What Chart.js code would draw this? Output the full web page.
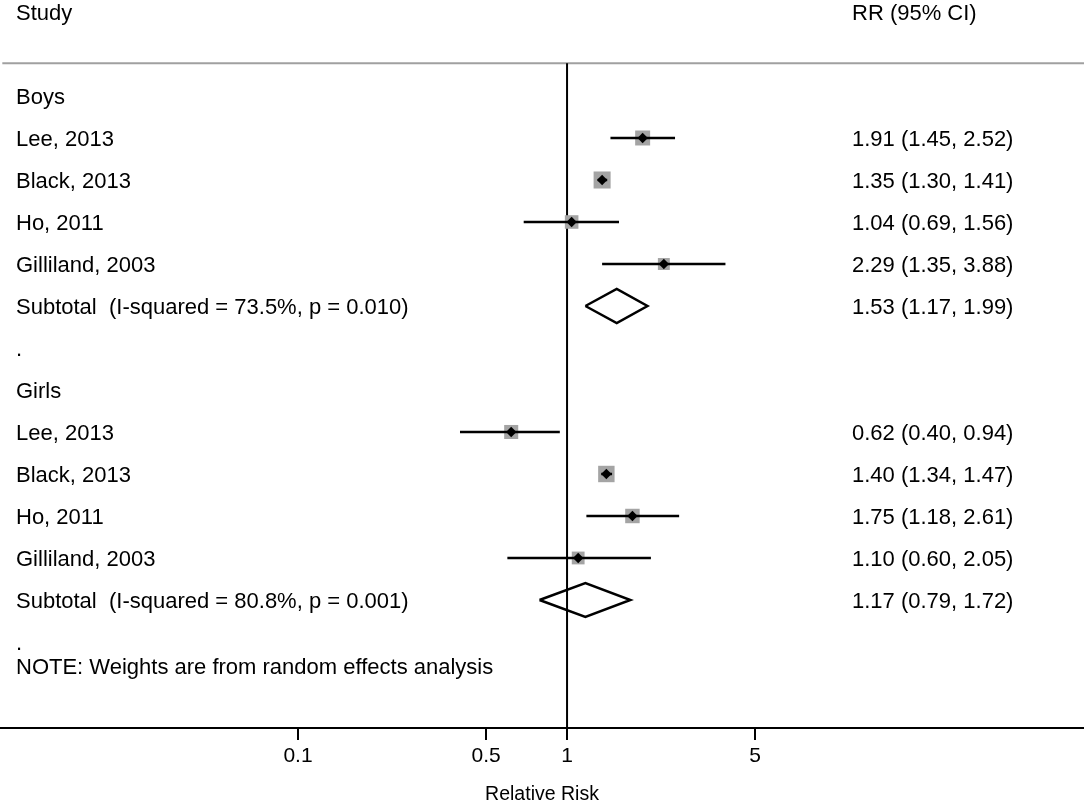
<!DOCTYPE html>
<html>
<head>
<meta charset="utf-8">
<script src="https://cdn.jsdelivr.net/npm/chart.js@4.4.1/dist/chart.umd.min.js"></script>
<style>
  html, body { margin: 0; padding: 0; background: #fff; }
  #wrap { width: 1084px; height: 804px; position: relative; }
</style>
</head>
<body>
<div id="wrap"><canvas id="forest"></canvas></div>
<script>
const studies = ['Lee, 2013', 'Black, 2013', 'Ho, 2011', 'Gilliland, 2003'];
const groups = ['Boys', 'Girls'];

const boysRR = [1.91, 1.35, 1.04, 2.29];
const boysLo = [1.45, 1.30, 0.69, 1.35];
const boysHi = [2.52, 1.41, 1.56, 3.88];
const boysWeight = [26.7, 34.5, 21.9, 16.9];

const girlsRR = [0.62, 1.40, 1.75, 1.10];
const girlsLo = [0.40, 1.34, 1.18, 0.60];
const girlsHi = [0.94, 1.47, 2.61, 2.05];
const girlsWeight = [23.5, 32.1, 24.9, 19.5];

const subtotalRR = [1.53, 1.17];
const subtotalLo = [1.17, 0.79];
const subtotalHi = [1.99, 1.72];
const subtotalI2 = ['73.5%', '80.8%'];
const subtotalP = ['0.010', '0.001'];

const xTicks = [0.1, 0.5, 1, 5];
const note = 'NOTE: Weights are from random effects analysis';

// axis range so that RR = 1 sits at x = 567 and the plot spans the full width
const X_MIN = 0.0078;
const X_MAX = 83.5;
const Y_MIN = -2.2857;
const Y_MAX = 15.048;
const HEADER_LINE = -0.779;
const FONT = '"Liberation Sans", Arial, sans-serif';
const BOX_GRAY = '#a4a4a4';

const fmt = (rr, lo, hi) => `${rr.toFixed(2)} (${lo.toFixed(2)}, ${hi.toFixed(2)})`;

// build rows: group header, studies, subtotal, spacer
const series = [
  { rr: boysRR, lo: boysLo, hi: boysHi, w: boysWeight },
  { rr: girlsRR, lo: girlsLo, hi: girlsHi, w: girlsWeight }
];
const leftText = [{ row: -2, text: 'Study' }];
const rightText = [{ row: -2, text: 'RR (95% CI)' }];
const studyRows = [];
const subRows = [];
let row = 0;
groups.forEach((g, gi) => {
  leftText.push({ row, text: g });
  row++;
  const s = series[gi];
  studies.forEach((name, i) => {
    studyRows.push({ row, rr: s.rr[i], lo: s.lo[i], hi: s.hi[i], w: s.w[i] });
    leftText.push({ row, text: name });
    rightText.push({ row, text: fmt(s.rr[i], s.lo[i], s.hi[i]) });
    row++;
  });
  subRows.push({ row, rr: subtotalRR[gi], lo: subtotalLo[gi], hi: subtotalHi[gi] });
  leftText.push({ row, text: `Subtotal  (I-squared = ${subtotalI2[gi]}, p = ${subtotalP[gi]})` });
  rightText.push({ row, text: fmt(subtotalRR[gi], subtotalLo[gi], subtotalHi[gi]) });
  row++;
  leftText.push({ row, text: '.' });
  row++;
});
leftText.push({ row: row - 1 + 0.58, text: note });

const datasets = [];

// weight boxes
datasets.push({
  data: studyRows.map(r => ({ x: r.rr, y: r.row })),
  pointStyle: 'rect',
  pointRadius: studyRows.map(r => 2.05 * Math.sqrt(r.w)),
  backgroundColor: BOX_GRAY,
  borderWidth: 0,
  order: 3
});

// confidence intervals
studyRows.forEach(r => {
  datasets.push({
    data: [{ x: r.lo, y: r.row }, { x: r.hi, y: r.row }],
    showLine: true,
    borderColor: '#000',
    borderWidth: 2.5,
    pointRadius: 0,
    order: 2
  });
});

// point estimates
datasets.push({
  data: studyRows.map(r => ({ x: r.rr, y: r.row })),
  pointStyle: 'rectRot',
  pointRadius: 5.2,
  backgroundColor: '#000',
  borderWidth: 0,
  order: 0
});

// subtotal diamonds
subRows.forEach(r => {
  const h = 0.405;
  datasets.push({
    data: [
      { x: r.lo, y: r.row }, { x: r.rr, y: r.row - h },
      { x: r.hi, y: r.row }, { x: r.rr, y: r.row + h },
      { x: r.lo, y: r.row }
    ],
    showLine: true,
    borderColor: '#000',
    borderWidth: 2.5,
    borderJoinStyle: 'miter',
    fill: false,
    pointRadius: 0,
    order: 1
  });
});

// null line and header rule
datasets.push({
  data: [{ x: 1, y: HEADER_LINE }, { x: 1, y: Y_MAX }],
  showLine: true, borderColor: '#000', borderWidth: 2, pointRadius: 0, order: 4
});
datasets.push({
  data: [{ x: X_MIN * 1.02, y: HEADER_LINE }, { x: X_MAX, y: HEADER_LINE }],
  showLine: true, borderColor: '#a0a0a0', borderWidth: 2, pointRadius: 0, order: 4
});

const textPlugin = {
  id: 'forestText',
  afterDraw(chart) {
    const { ctx } = chart;
    const y = chart.scales.y;
    ctx.save();
    ctx.fillStyle = '#000';
    ctx.font = `22px ${FONT}`;
    ctx.textBaseline = 'middle';
    ctx.textAlign = 'left';
    // nudge down so the cap height centres on the row
    leftText.forEach(t => ctx.fillText(t.text, 16, y.getPixelForValue(t.row) + 2));
    rightText.forEach(t => ctx.fillText(t.text, 852, y.getPixelForValue(t.row) + 2));
    ctx.restore();
  }
};

new Chart(document.getElementById('forest').getContext('2d'), {
  type: 'scatter',
  data: { datasets },
  options: {
    responsive: true,
    maintainAspectRatio: false,
    animation: false,
    layout: { padding: 0, autoPadding: false },
    plugins: { legend: { display: false }, tooltip: { enabled: false } },
    scales: {
      x: {
        type: 'logarithmic',
        min: X_MIN,
        max: X_MAX,
        afterBuildTicks: s => { s.ticks = xTicks.map(v => ({ value: v })); },
        afterFit: s => { s.height = 76; },
        ticks: {
          callback: v => String(v),
          color: '#000',
          font: { family: FONT, size: 21 },
          padding: 4,
          maxRotation: 0,
          autoSkip: false
        },
        grid: { drawOnChartArea: false, drawTicks: true, tickLength: 12, color: '#000', lineWidth: 2 },
        border: { display: true, color: '#000', width: 2 },
        title: {
          display: true,
          text: 'Relative Risk',
          color: '#000',
          font: { family: FONT, size: 19.5, lineHeight: 1 },
          padding: { top: 0, bottom: 0 }
        }
      },
      y: {
        type: 'linear',
        display: false,
        reverse: true,
        min: Y_MIN,
        max: Y_MAX
      }
    }
  },
  plugins: [textPlugin]
});
</script>
</body>
</html>
